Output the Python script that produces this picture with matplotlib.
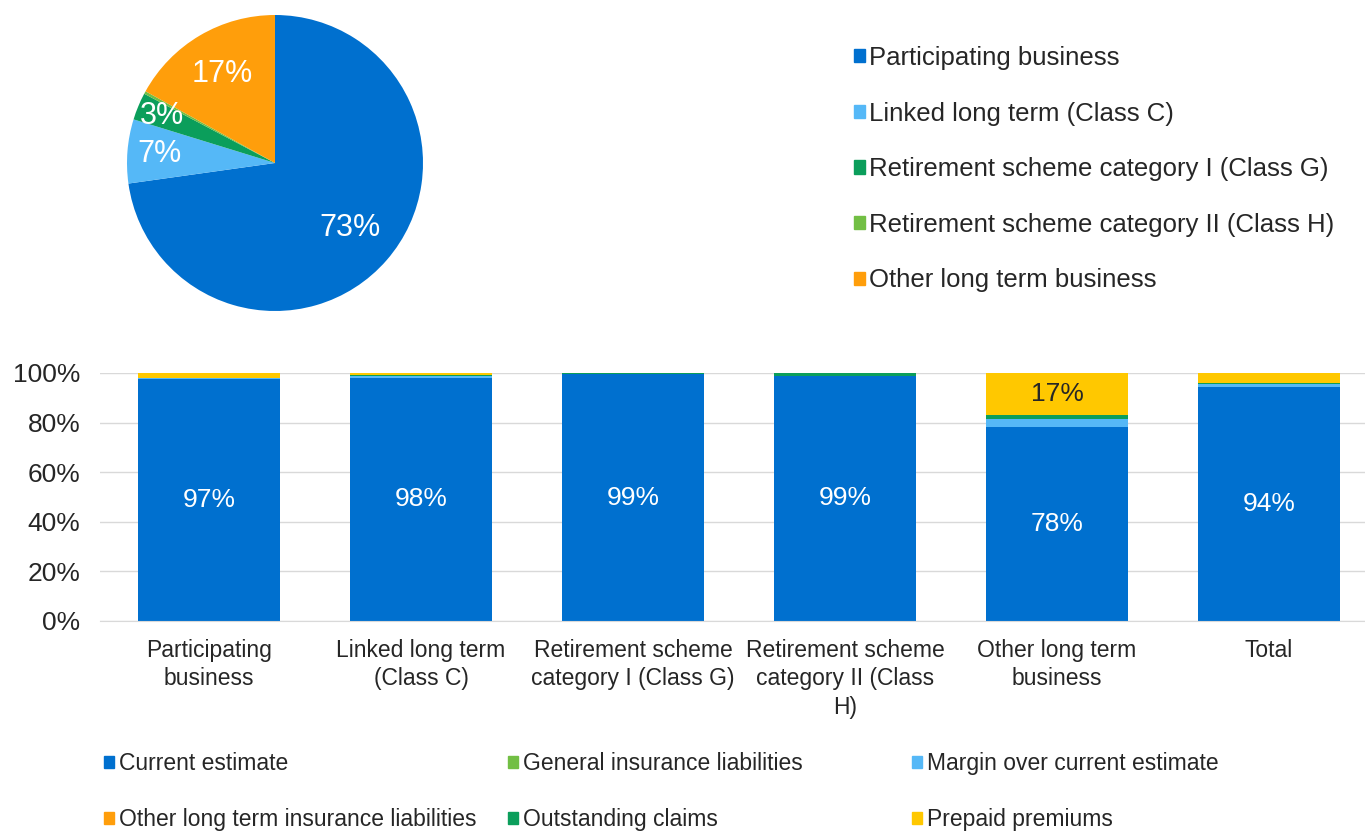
import math
import matplotlib.pyplot as plt
from matplotlib.patches import Patch

plt.rcParams['font.family'] = ['Liberation Sans', 'DejaVu Sans']

# pie: share of liabilities by business line
pie_labels = ['Participating business', 'Linked long term (Class C)',
              'Retirement scheme category I (Class G)',
              'Retirement scheme category II (Class H)', 'Other long term business']
pie_values = [73.0, 7.0, 3.0, 0.3, 17.0]
pie_colors = ['#0070CF', '#55B8F7', '#0B9E5B', '#72BF44', '#FF9E0B']

# stacked bars: composition per business line
categories = ['Participating\nbusiness', 'Linked long term\n(Class C)',
              'Retirement scheme\ncategory I (Class G)',
              'Retirement scheme\ncategory II (Class\nH)',
              'Other long term\nbusiness', 'Total']
series_names = ['Current estimate', 'General insurance liabilities',
                'Margin over current estimate', 'Other long term insurance liabilities',
                'Outstanding claims', 'Prepaid premiums']
current_estimate = [97.4, 98.0, 99.4, 98.8, 78.2, 94.4]
general_insurance = [0.0, 0.0, 0.0, 0.0, 0.0, 0.0]
margin = [0.5, 0.8, 0.3, 0.0, 3.2, 1.3]
other_lt_liab = [0.0, 0.0, 0.0, 0.0, 0.2, 0.0]
outstanding = [0.1, 0.3, 0.2, 1.2, 1.4, 0.3]
prepaid = [2.0, 0.9, 0.1, 0.0, 17.0, 4.0]
bar_colors = ['#0070CF', '#72BF44', '#55B8F7', '#FF9E0B', '#0B9E5B', '#FFC800']

W, H = 1365, 831
TXT = '#262626'
fig = plt.figure(figsize=(W / 100, H / 100), dpi=100)

# ---- pie ----
cx, cy, r = 275, 163, 148
pax = fig.add_axes([(cx - r) / W, 1 - (cy + r) / H, 2 * r / W, 2 * r / H])
total = sum(pie_values)
wedges, _ = pax.pie(pie_values, colors=pie_colors, startangle=90, counterclock=False,
                    radius=1, wedgeprops=dict(linewidth=0))
# label distance per wedge (Excel "best fit" style placement)
dists = [0.67, 0.78, 0.83, 0.0, 0.70]
for w, v, d in zip(wedges, pie_values, dists):
    pct = v / total * 100
    if pct < 1:
        continue
    ang = math.radians((w.theta1 + w.theta2) / 2)
    pax.text(d * math.cos(ang), d * math.sin(ang), f"{pct:.0f}%", color='white',
             fontsize=22, ha='center', va='center')
pax.set_xlim(-1, 1)
pax.set_ylim(-1, 1)
pax.set_aspect('equal')
pax.axis('off')

pie_handles = [Patch(color=c) for c in pie_colors]
fig.legend(pie_handles, pie_labels, loc='upper left', bbox_to_anchor=(854 / W, 1 - 46 / H),
           frameon=False, fontsize=18.5, handlelength=0.42, handleheight=0.42,
           handletextpad=0.18, labelspacing=1.23, borderpad=0, borderaxespad=0,
           labelcolor=TXT)

# ---- stacked bars ----
bax = fig.add_axes([100 / W, (H - 621) / H, (W - 100) / W, 248 / H])
series = [current_estimate, general_insurance, margin, other_lt_liab, outstanding, prepaid]
x = list(range(len(categories)))
bottom = [0.0] * len(categories)
containers = []
for vals, col in zip(series, bar_colors):
    c = bax.bar(x, vals, bottom=bottom, width=0.67, color=col, linewidth=0, zorder=3)
    containers.append(c)
    bottom = [b + v for b, v in zip(bottom, vals)]

bax.bar_label(containers[0], labels=[f"{v:.0f}%" for v in current_estimate],
              label_type='center', color='white', fontsize=19)
bax.bar_label(containers[5], labels=[f"{v:.0f}%" if v >= 10 else '' for v in prepaid],
              label_type='center', color=TXT, fontsize=19)

bax.set_xlim(-0.5 - 3 / 212, -0.5 + (W - 103) / 212)
bax.set_ylim(0, 100)
bax.set_yticks(range(0, 101, 20))
bax.set_yticklabels([f"{t}%" for t in range(0, 101, 20)], fontsize=19, color=TXT)
bax.set_xticks(x)
bax.set_xticklabels(categories, fontsize=16.5, color=TXT, linespacing=1.3)
bax.tick_params(axis='x', length=0, pad=13)
bax.tick_params(axis='y', length=0, pad=14)
bax.grid(axis='y', color='#D9D9D9', linewidth=1, zorder=0)
for s in ['top', 'right', 'left']:
    bax.spines[s].set_visible(False)
bax.spines['bottom'].set_color('#D9D9D9')
bax.spines['bottom'].set_zorder(4)

# bottom legend: three columns of two entries
col_x = [104, 508, 912]
for i, cx_ in enumerate(col_x):
    idx = [i, i + 3]
    fig.legend([Patch(color=bar_colors[j]) for j in idx], [series_names[j] for j in idx],
               loc='upper left', bbox_to_anchor=(cx_ / W, 1 - 752 / H), frameon=False,
               fontsize=16.5, handlelength=0.45, handleheight=0.45, handletextpad=0.2,
               labelspacing=1.45, borderpad=0, borderaxespad=0, labelcolor=TXT)

fig.savefig('out.png', dpi=100)
